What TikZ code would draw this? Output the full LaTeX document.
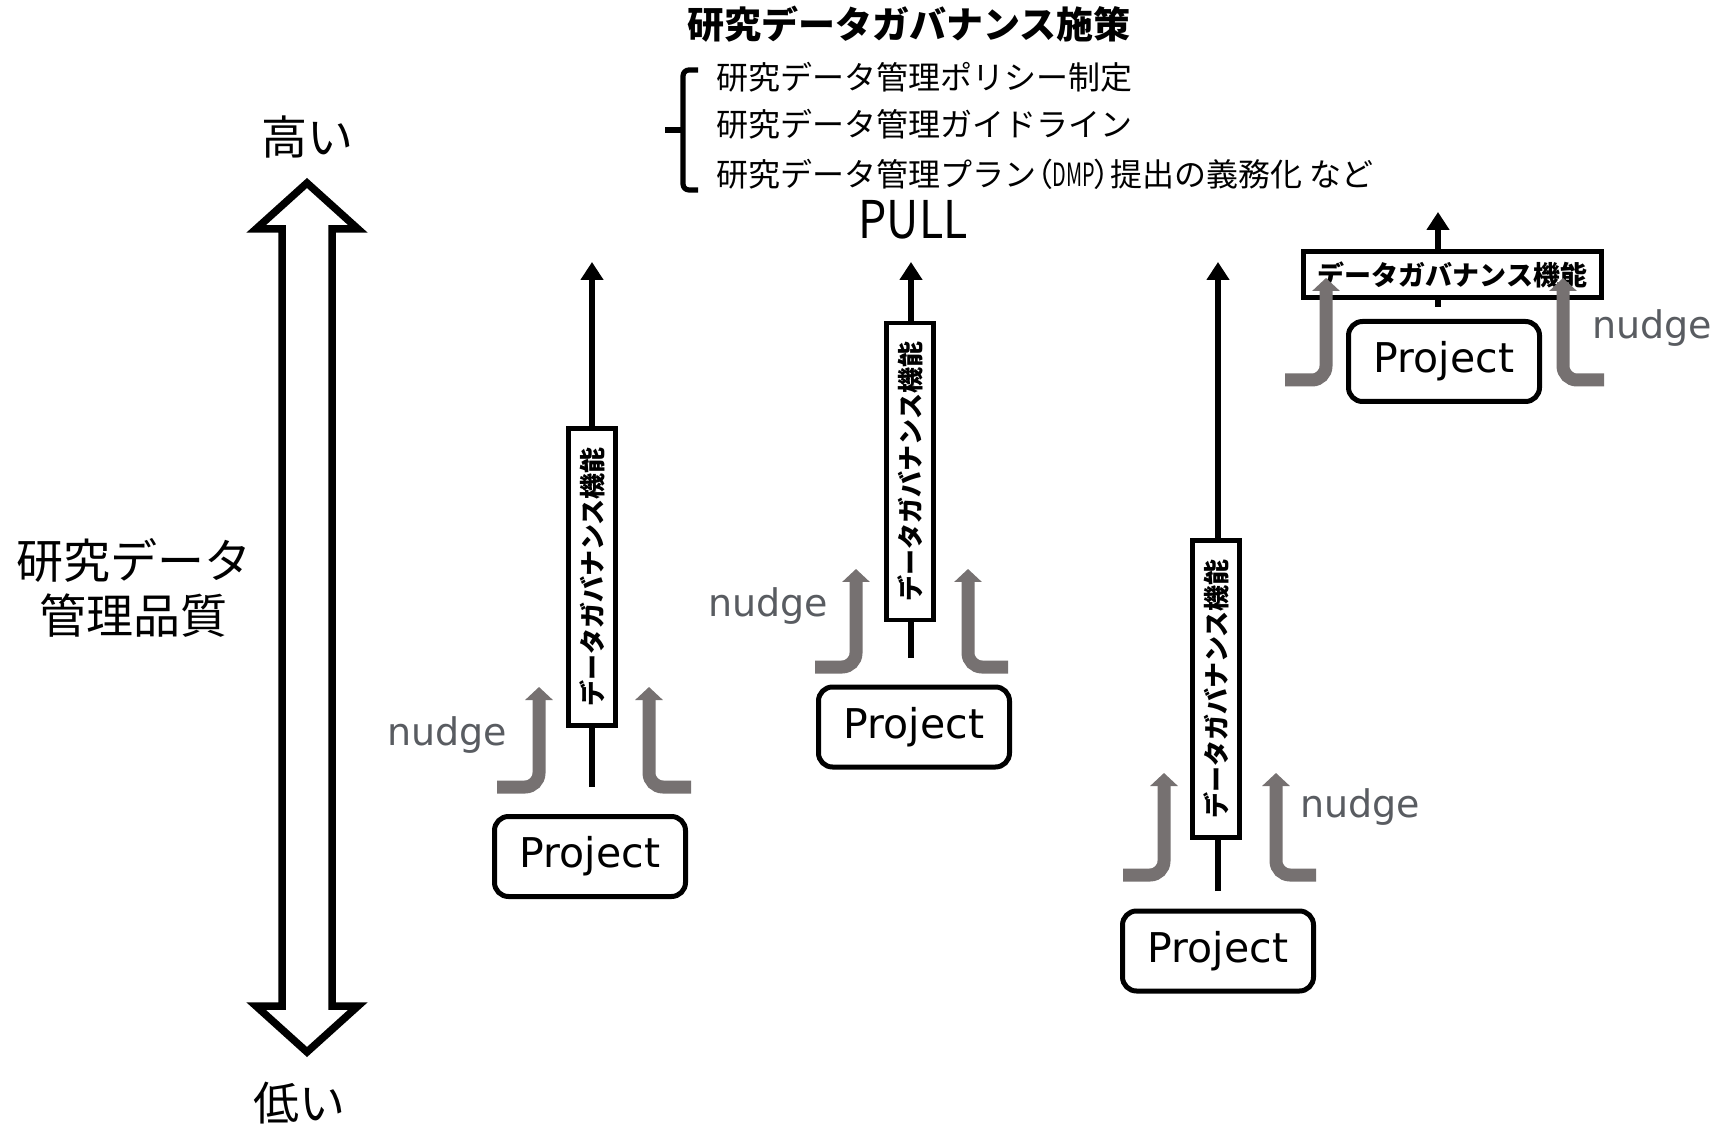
\documentclass[tikz,border=0pt]{standalone}
\usepackage{fontspec}
\usetikzlibrary{arrows.meta}
\newfontfamily\jp{Noto Sans CJK JP}
\newfontfamily\lat{DejaVu Sans}
\definecolor{nudgegray}{HTML}{767171}
\definecolor{nudgetext}{HTML}{595C61}
\tikzset{
 prj/.style={draw, line width=2.5pt, rounded corners=7pt, minimum width=95.5pt, minimum height=40pt, inner sep=0pt, fill=white, font=\lat\fontsize{20.5pt}{24pt}\selectfont},
 govv/.style={draw, line width=2.3pt, fill=white, minimum width=148.5pt, minimum height=23.5pt, inner sep=0pt, rotate=90, font=\jp\bfseries\fontsize{13pt}{15pt}\selectfont},
 govh/.style={draw, line width=2.3pt, fill=white, minimum width=149pt, minimum height=23pt, inner sep=0pt, font=\jp\bfseries\fontsize{13.5pt}{15pt}\selectfont},
 pullarrow/.style={line width=2.75pt, -{Triangle[width=11pt,length=9pt]}},
 nudgearrow/.style={line width=6.5pt, draw=nudgegray, rounded corners=7pt, -{Triangle[width=13.5pt,length=6.5pt]}},
 nudgelabel/.style={text=nudgetext, font=\lat\fontsize{19pt}{22pt}\selectfont, inner sep=0pt},
 jplabel/.style={inner sep=0pt},
}
\begin{document}
\begin{tikzpicture}[x=0.5pt,y=-0.5pt]
\useasboundingbox (0,0) rectangle (1725,1128);
\fill[white] (0,0) rectangle (1725,1128);

% header
\node[jplabel, font=\jp\bfseries\fontsize{18.5pt}{20pt}\selectfont] (title) at (909,24) {研究データガバナンス施策};
\draw[line width=2.6pt, rounded corners=3pt] (698,70) -- (683,70) -- (683,190) -- (698,190);
\draw[line width=2.6pt] (665,130) -- (683,130);
\node[jplabel, anchor=west, font=\jp\fontsize{16pt}{18pt}\selectfont] (pol1) at (716,77) {研究データ管理ポリシー制定};
\node[jplabel, anchor=west, font=\jp\fontsize{16pt}{18pt}\selectfont] (pol2) at (716,124) {研究データ管理ガイドライン};
\node[jplabel, anchor=west, font=\jp\fontsize{16pt}{18pt}\selectfont] (pol3) at (716,174) {研究データ管理プラン{\addfontfeature{RawFeature=+palt}（}\scalebox{0.62}[1]{DMP}{\addfontfeature{RawFeature=+palt}）}提出の義務化 など};
\node[jplabel, font=\jp\fontsize{26pt}{28pt}\selectfont] (pull) at (913,220) {\scalebox{0.86}[1]{PULL}};

% quality axis
\draw[line width=3.75pt, line join=miter, fill=white] (307,183) -- (358,229) -- (332,229) -- (332,1006) -- (358,1006) -- (307,1052) -- (256,1006) -- (282,1006) -- (282,229) -- (256,229) -- cycle;
\node[jplabel, font=\jp\fontsize{23pt}{25pt}\selectfont] (high) at (307,137) {高い};
\node[jplabel, font=\jp\fontsize{23pt}{25pt}\selectfont] (low) at (299,1103) {低い};
\node[jplabel, align=center, font=\jp\fontsize{23.5pt}{27.5pt}\selectfont] (quality) at (134,588) {研究データ\\管理品質};

% column 1
\coordinate (a1b) at (592,787); \coordinate (a1t) at (592,262);
\draw[pullarrow] (a1b) -- (a1t);
\node[govv] (g1) at (592,577) {データガバナンス機能};
\node[prj] (p1) at (590,856.5) {Project};
\coordinate (n1ls) at (497,787); \coordinate (n1le) at (539,687);
\draw[nudgearrow] (n1ls) -| (n1le);
\coordinate (n1rs) at (691,787); \coordinate (n1re) at (649,687);
\draw[nudgearrow] (n1rs) -| (n1re);
\node[nudgelabel] (nl1) at (447,735) {nudge};

% column 2
\coordinate (a2b) at (911,658); \coordinate (a2t) at (911,262);
\draw[pullarrow] (a2b) -- (a2t);
\node[govv] (g2) at (910,471.5) {データガバナンス機能};
\node[prj] (p2) at (914,727) {Project};
\coordinate (n2ls) at (815,667); \coordinate (n2le) at (856,569);
\draw[nudgearrow] (n2ls) -| (n2le);
\coordinate (n2rs) at (1008,667); \coordinate (n2re) at (968,569);
\draw[nudgearrow] (n2rs) -| (n2re);
\node[nudgelabel] (nl2) at (768,606) {nudge};

% column 3
\coordinate (a3b) at (1218,891); \coordinate (a3t) at (1218,262);
\draw[pullarrow] (a3b) -- (a3t);
\node[govv] (g3) at (1216,689) {データガバナンス機能};
\node[prj] (p3) at (1218,951) {Project};
\coordinate (n3ls) at (1123,875); \coordinate (n3le) at (1164,773);
\draw[nudgearrow] (n3ls) -| (n3le);
\coordinate (n3rs) at (1316,875); \coordinate (n3re) at (1276,773);
\draw[nudgearrow] (n3rs) -| (n3re);
\node[nudgelabel] (nl3) at (1360,807) {nudge};

% column 4
\coordinate (a4b) at (1438,307); \coordinate (a4t) at (1438,212);
\draw[pullarrow] (a4b) -- (a4t);
\node[govh] (g4) at (1452.5,274.5) {データガバナンス機能};
\node[prj] (p4) at (1444,361.5) {Project};
\coordinate (n4ls) at (1285,380); \coordinate (n4le) at (1326,278);
\draw[nudgearrow] (n4ls) -| (n4le);
\coordinate (n4rs) at (1604,380); \coordinate (n4re) at (1563,278);
\draw[nudgearrow] (n4rs) -| (n4re);
\node[nudgelabel] (nl4) at (1652,328) {nudge};
\end{tikzpicture}
\end{document}
